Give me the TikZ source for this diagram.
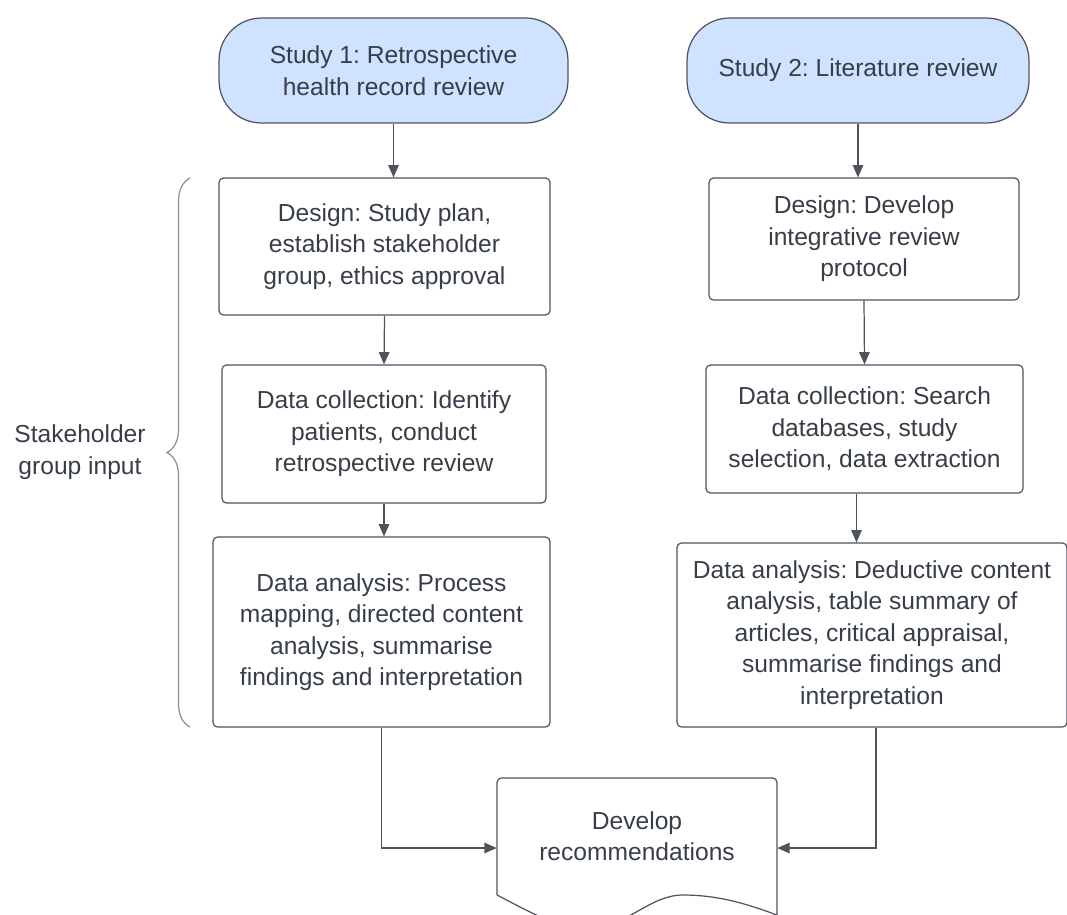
\documentclass[tikz,border=0pt]{standalone}
\usepackage{fontspec}
\setmainfont{Liberation Sans}
\usetikzlibrary{arrows.meta,decorations.pathreplacing}
\definecolor{pillblue}{RGB}{207,226,255}
\definecolor{edgegray}{RGB}{78,84,94}
\definecolor{textgray}{RGB}{55,62,72}
\definecolor{bracegray}{RGB}{140,144,150}
\frenchspacing

\begin{document}
\begin{tikzpicture}[x=0.02cm, y=-0.02cm,
	every node/.style={font=\fontsize{14}{17.9}\selectfont, text=textgray, align=center},
	stepbox/.style={draw=edgegray, line width=0.7pt, rounded corners=2.5pt, inner sep=0pt},
	studypill/.style={stepbox, fill=pillblue, rounded corners=0.85cm, minimum height=2.1cm},
	flow/.style={draw=edgegray, line width=0.7pt, -{Triangle[length=7pt,width=6pt]}}]

	\useasboundingbox (0,0) rectangle (1067,914);
	\clip (0,0) rectangle (1067,914);

	% study 1 column
	\node[studypill, minimum width=6.98cm] (study1) at (393.5,70.5) {Study 1: Retrospective\\health record review};
	\node[stepbox, minimum width=6.62cm, minimum height=2.74cm] (design1) at (384.5,246.5) {Design: Study plan,\\establish stakeholder\\group, ethics approval};
	\node[stepbox, minimum width=6.48cm, minimum height=2.76cm] (collect1) at (384,434) {Data collection: Identify\\patients, conduct\\retrospective review};
	\node[stepbox, minimum width=6.74cm, minimum height=3.8cm] (analysis1) at (381.5,632) {Data analysis: Process\\mapping, directed content\\analysis, summarise\\findings and interpretation};

	% study 2 column
	\node[studypill, minimum width=6.84cm] (study2) at (858,70.5) {Study 2: Literature review};
	\node[stepbox, minimum width=6.2cm, minimum height=2.44cm] (design2) at (864,239) {Design: Develop\\integrative review\\protocol};
	\node[stepbox, minimum width=6.34cm, minimum height=2.56cm] (collect2) at (864.5,429) {Data collection: Search\\databases, study\\selection, data extraction};
	\node[stepbox, minimum width=7.8cm, minimum height=3.68cm] (analysis2) at (872,635) {Data analysis: Deductive content\\analysis, table summary of\\articles, critical appraisal,\\summarise findings and\\interpretation};

	% recommendations document
	\node[minimum width=5.6cm, minimum height=2.8cm, inner sep=0pt] (recbox) at (637,848) {};
	\draw[edgegray, line width=0.7pt, rounded corners=2.5pt] (497,895) -- (497,778) -- (777,778) -- (777,925);
	\draw[edgegray, line width=0.7pt] (497,895) .. controls (530,912) and (560,930) .. (590,928) .. controls (630,925) and (650,895) .. (683,895) .. controls (720,895) and (750,905) .. (777,915);
	\node (rectext) at (637,836) {Develop\\recommendations};

	\draw[flow] (study1.south) -- (study1.south |- design1.north);
	\draw[flow] (design1.south) -- (collect1.north);
	\draw[flow] (collect1.south) -- (collect1.south |- analysis1.north);
	\draw[flow] (study2.south) -- (study2.south |- design2.north);
	\draw[flow] (design2.south) -- (collect2.north);
	\draw[flow] ([xshift=-0.16cm]collect2.south) -- ([xshift=-0.16cm]collect2.south |- analysis2.north);
	\draw[flow] (analysis1.south) |- (recbox.west);
	\draw[flow] ([xshift=0.08cm]analysis2.south) |- (recbox.east);

	% stakeholder brace
	\coordinate (bracetop) at (190,178);
	\coordinate (bracebot) at (190,727);
	\draw[bracegray, line width=0.7pt, decorate, decoration={brace, amplitude=0.46cm}] (bracebot) -- (bracetop);
	\node (stakeholder) at (80,452) {Stakeholder\\group input};

\end{tikzpicture}
\end{document}
